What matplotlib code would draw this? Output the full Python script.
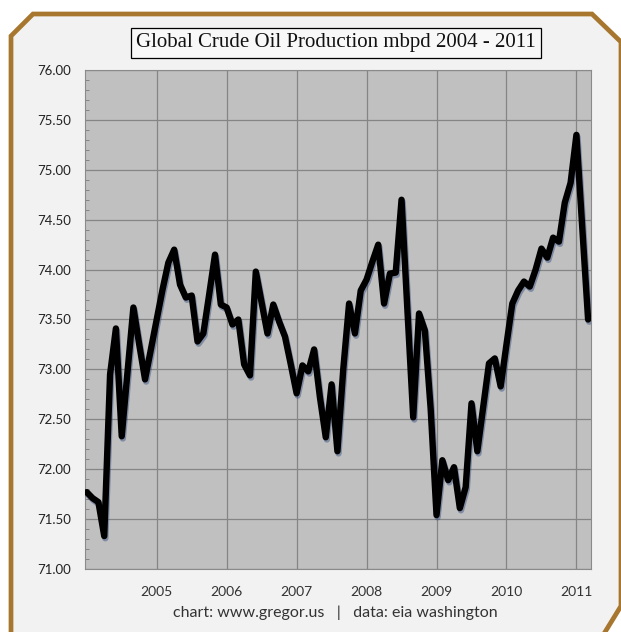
import matplotlib
matplotlib.use("Agg")
import matplotlib.pyplot as plt
import matplotlib.patheffects as pe
from matplotlib.patches import Polygon
import numpy as np

# monthly global crude oil production, Jan 2004 - Mar 2011 (mbpd)
production = [
    71.77, 71.71, 71.67, 71.33, 72.95, 73.41, 72.33, 72.98, 73.62, 73.25, 72.90, 73.20,  # 2004
    73.50, 73.80, 74.07, 74.20, 73.85, 73.72, 73.74, 73.28, 73.36, 73.75, 74.15, 73.65,  # 2005
    73.62, 73.45, 73.50, 73.05, 72.94, 73.98, 73.67, 73.36, 73.65, 73.48, 73.33, 73.05,  # 2006
    72.76, 73.04, 72.98, 73.20, 72.72, 72.32, 72.85, 72.18, 73.00, 73.66, 73.36, 73.79,  # 2007
    73.90, 74.08, 74.25, 73.66, 73.96, 73.97, 74.70, 73.60, 72.52, 73.56, 73.39, 72.60,  # 2008
    71.54, 72.09, 71.89, 72.02, 71.61, 71.82, 72.66, 72.18, 72.62, 73.06, 73.11, 72.83,  # 2009
    73.25, 73.66, 73.79, 73.88, 73.83, 74.00, 74.21, 74.12, 74.32, 74.28, 74.67, 74.87,  # 2010
    75.35, 74.42, 73.50,                                                                  # 2011
]
year_labels = ['2005', '2006', '2007', '2008', '2009', '2010', '2011']
y_ticks = [71.0, 71.5, 72.0, 72.5, 73.0, 73.5, 74.0, 74.5, 75.0, 75.5, 76.0]

W, H = 621, 632
fig = plt.figure(figsize=(W / 100, H / 100), dpi=100)
fig.patch.set_facecolor('white')

# framed background with chamfered corners
frame = [(11, 650), (11, 36), (33, 14), (592, 14), (621, 42), (621, 606), (594, 650)]
frame = [(x / W, 1 - y / H) for x, y in frame]
fig.add_artist(Polygon(frame, closed=True, transform=fig.transFigure,
                       facecolor='#F2F2F2', edgecolor='#A8772F', lw=3.4, zorder=0))

ax = fig.add_axes([85 / W, (H - 569) / H, (591 - 85) / W, (569 - 70) / H])
ax.set_facecolor('#C0C0C0')

months = np.arange(len(production))
ax.plot(months, production, color='black', lw=4.6, solid_joinstyle='round',
        solid_capstyle='round', zorder=3,
        path_effects=[pe.SimpleLineShadow(offset=(0.8, -1.6), shadow_color='#1E3C78', alpha=0.4),
                      pe.Normal()])

ax.set_xlim(-0.3, 86.5)
ax.set_ylim(71, 76)
ax.set_xticks(np.arange(12, 85, 12))
ax.set_xticklabels(year_labels, fontsize=10, color='#333333', family='Lato')
ax.set_yticks(y_ticks)
ax.set_yticklabels([f'{v:.2f}' for v in y_ticks], fontsize=9.5, color='#222222', family='Lato')
ax.set_yticks(np.arange(71, 76.01, 0.1), minor=True)
ax.tick_params(axis='x', length=0, pad=12)
ax.tick_params(axis='y', which='major', length=0, pad=10)
ax.tick_params(axis='y', which='minor', direction='in', length=3, width=0.6, color='#7A7A7A')
ax.grid(True, color='#858585', lw=0.9)
ax.set_axisbelow(True)
for s in ax.spines.values():
    s.set_color('#8A8A8A')
    s.set_linewidth(0.8)

fig.text(336 / W, 1 - 43 / H, 'Global Crude Oil Production mbpd 2004 - 2011',
         ha='center', va='center', fontsize=15, family='Liberation Serif', color='#111111',
         bbox=dict(boxstyle='square,pad=0.25', facecolor='#F8F8F8', edgecolor='black', lw=0.9))
fig.text(335 / W, 1 - 613 / H, 'chart: www.gregor.us   |   data: eia washington',
         ha='center', va='center', fontsize=11.5, family='Lato', color='#333333')

fig.savefig('out.png', dpi=100)
